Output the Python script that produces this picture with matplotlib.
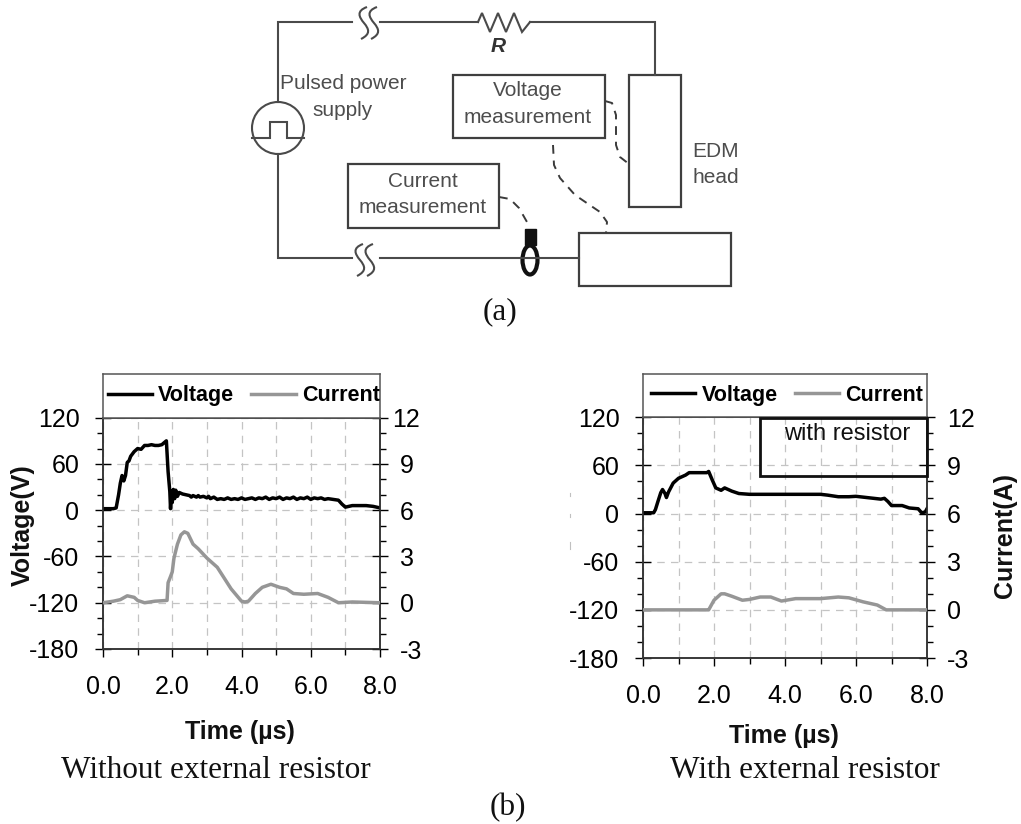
from matplotlib import pyplot as plt
from matplotlib.patches import Rectangle, Circle, Ellipse, PathPatch
from matplotlib.path import Path
from matplotlib.transforms import ScaledTranslation

plt.rcParams['font.family'] = ['Liberation Sans', 'DejaVu Sans']
plt.rcParams['axes.unicode_minus'] = False

WIDTH, HEIGHT = 1021, 824

# values: time in us, voltage in V, current in A
left_vt = [0, .15, .3, .38, .45, .5, .55, .6, .65, .7, .75, .8, .9, 1.0, 1.1, 1.2, 1.3, 1.4, 1.5, 1.6, 1.7, 1.75, 1.83, 1.88, 1.93, 1.95, 1.98, 2.0, 2.03, 2.07, 2.1, 2.15, 2.2, 2.3, 2.4, 2.5, 2.55, 2.6, 2.7, 2.75, 2.8, 2.9, 3.0, 3.05, 3.1, 3.2, 3.3, 3.4, 3.5, 3.6, 3.7, 3.8, 3.9, 4.0, 4.1, 4.2, 4.3, 4.4, 4.5, 4.6, 4.7, 4.8, 4.9, 5.0, 5.1, 5.2, 5.3, 5.4, 5.5, 5.6, 5.7, 5.8, 5.9, 6.0, 6.1, 6.2, 6.3, 6.4, 6.5, 6.65, 6.8, 6.9, 7.0, 7.2, 7.4, 7.6, 7.8, 8.0]
left_v = [2, 2, 2, 3, 20, 35, 45, 38, 45, 62, 64, 70, 76, 80, 79, 84, 84, 85, 84, 84, 85, 87, 90, 50, 24, 2, 25, 10, 27, 15, 26, 18, 23, 21, 20, 19, 17, 19, 17, 19, 17, 18, 16, 18, 15, 17, 14, 15, 14, 16, 14, 15, 14, 16, 14, 15, 16, 14, 16, 15, 17, 14, 16, 15, 17, 14, 16, 15, 17, 14, 16, 15, 17, 14, 16, 15, 16, 14, 15, 14, 13, 8, 4, 6, 6, 6, 5, 3]
left_it = [0, .3, .5, .7, .9, 1.0, 1.2, 1.5, 1.85, 1.88, 1.95, 2.0, 2.05, 2.15, 2.25, 2.35, 2.45, 2.6, 2.75, 3.0, 3.3, 3.5, 3.7, 4.0, 4.1, 4.2, 4.4, 4.6, 4.85, 5.1, 5.3, 5.5, 5.8, 6.2, 6.5, 6.8, 7.2, 8.0]
left_i = [0, .1, .2, .45, .35, .15, 0, .1, .15, 1.3, 1.7, 2.0, 2.9, 3.8, 4.4, 4.6, 4.5, 3.8, 3.5, 2.9, 2.3, 1.6, .9, .1, .05, .1, .6, 1.0, 1.2, 1.0, .9, .6, .55, .6, .35, 0, .05, 0]

right_vt = [0, .3, .35, .42, .5, .55, .62, .66, .72, .85, 1.0, 1.2, 1.3, 1.5, 1.8, 1.85, 1.95, 2.05, 2.2, 2.3, 2.5, 2.7, 3.0, 4.0, 5.0, 5.2, 5.5, 5.8, 6.0, 6.3, 6.7, 6.8, 6.9, 7.0, 7.3, 7.5, 7.75, 7.85, 7.95, 8.0]
right_v = [1, 1, 5, 15, 26, 30, 25, 20, 27, 38, 44, 48, 51, 51, 51, 52.5, 42, 32, 29, 32, 28, 25, 24, 24, 24, 23, 21, 21, 21.5, 20, 18, 19, 15, 10, 10, 7, 6, 1, 2, 6]
right_it = [0, 1.0, 1.8, 1.85, 2.0, 2.2, 2.3, 2.5, 2.8, 3.0, 3.3, 3.6, 3.9, 4.3, 5.0, 5.5, 5.8, 6.2, 6.6, 6.85, 7.0, 8.0]
right_i = [0, 0, 0, 0, .6, 1.0, 1.0, .85, .6, .65, .8, .8, .55, .7, .7, .8, .75, .5, .3, 0, 0, 0]

v_ticks = [-180, -120, -60, 0, 60, 120]
i_ticks = [-3, 0, 3, 6, 9, 12]
t_ticks = [0, 2, 4, 6, 8]
t_labels = ["0.0", "2.0", "4.0", "6.0", "8.0"]


def px_axes(x0, x1, y0, y1):
    """ axes from pixel edges, y counted from the top of the picture """
    return fig.add_axes([x0 / WIDTH, 1 - y1 / HEIGHT, (x1 - x0) / WIDTH, (y1 - y0) / HEIGHT])


def draw_panel(x0, x1, y_head, y_top, y_bottom, vt, v, it, i, shift_top=0):
    """ one voltage/current plot with its legend strip on top """
    ax = px_axes(x0, x1, y_top, y_bottom)
    ax.set_xlim(0, 8)
    ax.set_ylim(-180, 120)
    ax.set_yticks(v_ticks)
    ax.set_yticks(range(-160, 120, 20), minor=True)
    ax.set_xticks(t_ticks)
    ax.set_xticklabels(t_labels)
    ax.set_xticks([1, 3, 5, 7], minor=True)
    ax.tick_params(axis="y", which="major", direction="inout", length=11, width=1, labelsize=18, pad=11.5)
    ax.tick_params(axis="y", which="minor", direction="out", length=4.5, width=1)
    ax.tick_params(axis="x", which="major", direction="out", length=5.8, width=1, labelsize=18, pad=13)
    ax.tick_params(axis="x", which="minor", direction="out", length=4.3, width=1)
    ax.grid(True, which="major", axis="y", color="#c4c4c4", linestyle=(0, (6, 5)), linewidth=.9)
    ax.grid(True, which="both", axis="x", color="#c4c4c4", linestyle=(0, (6, 5)), linewidth=.9)
    ax.set_axisbelow(True)
    line_v, = ax.plot(vt, v, color="#000000", linewidth=2.5, zorder=4)

    twin = ax.twinx()
    twin.set_ylim(-3, 12)
    twin.set_yticks(i_ticks)
    twin.set_yticks([-2, -1, 1, 2, 4, 5, 7, 8, 10, 11], minor=True)
    twin.tick_params(which="major", direction="inout", length=11, width=1, labelsize=18, pad=9)
    twin.tick_params(which="minor", direction="out", length=4.5, width=1)
    line_i, = twin.plot(it, i, color="#969696", linewidth=2.5, zorder=3)

    # the top label of the right scale sits further left in one of the plots
    if shift_top:
        top = twin.get_yticklabels()[-1]
        top.set_transform(top.get_transform() + ScaledTranslation(shift_top / 100, 0, fig.dpi_scale_trans))

    for a in (ax, twin):
        for s in a.spines.values():
            s.set_color("#333333")
            s.set_linewidth(1.1)

    head = px_axes(x0, x1, y_head, y_top)
    head.set_xticks([])
    head.set_yticks([])
    for s in head.spines.values():
        s.set_color("#555555")
        s.set_linewidth(1.1)
    head.legend([line_v, line_i], ["Voltage", "Current"], ncol=2, loc="center",
                bbox_to_anchor=(.508, .5), frameon=False, handlelength=2.05,
                handletextpad=.3, columnspacing=.8, borderpad=0, borderaxespad=0,
                prop={"size": 15.5, "weight": "bold"})
    return ax, twin


def line_break(x, y):
    """ pair of S strokes that mark a break in a wire """
    for dx in (0, 10):
        verts = [(x + 11 + dx, y), (x + dx, y + 4), (x + 3 + dx, y + 10), (x + 8 + dx, y + 16),
                 (x + 13 + dx, y + 22), (x + 15 + dx, y + 27), (x + 5 + dx, y + 32)]
        codes = [Path.MOVETO] + [Path.CURVE4] * 6
        board.add_patch(PathPatch(Path(verts, codes), fill=False, edgecolor="#4a4a4a", linewidth=1.5))


fig = plt.figure(figsize=(WIDTH / 100, HEIGHT / 100), dpi=100)

# overlay in pixel coordinates for the circuit and the captions
board = fig.add_axes([0, 0, 1, 1], zorder=5)
board.set_xlim(0, WIDTH)
board.set_ylim(HEIGHT, 0)
board.axis("off")
wire = {"color": "#4a4a4a", "linewidth": 1.5, "solid_joinstyle": "miter"}
dash = {"color": "#3a3a3a", "linewidth": 1.4, "linestyle": (0, (4.5, 3.5))}
txt = {"color": "#4d4d4d", "fontsize": 15, "ha": "center", "va": "center"}

# wires
board.plot([352, 278, 278], [22, 22, 102], **wire)
board.plot([380, 478], [22, 22], **wire)
board.plot([478, 482, 490, 498, 506, 514, 522, 530], [22, 13, 32, 13, 32, 13, 32, 22], **wire)
board.plot([530, 655, 655], [22, 22, 75], **wire)
board.plot([278, 278, 352], [154, 258, 258], **wire)
board.plot([380, 579], [258, 258], **wire)

# line breaks
line_break(356, 7)
line_break(352, 244)

# supply
board.add_patch(Circle((278, 128), 26, fill=False, edgecolor="#4a4a4a", linewidth=1.5))
board.plot([252, 270, 270, 287, 287, 304], [138, 138, 122, 122, 138, 138], **wire)

# boxes
for x, y, w, h in [(629, 75, 52, 132), (579, 233, 152, 53), (453, 75, 152, 63), (348, 164, 151, 64)]:
    board.add_patch(Rectangle((x, y), w, h, fill=False, edgecolor="#3f3f3f", linewidth=1.6))

# current probe
board.add_patch(Rectangle((525, 229), 11, 16, color="#111111"))
board.add_patch(Ellipse((530, 260), 15, 29, fill=False, edgecolor="#111111", linewidth=3))

# signal leads
board.plot([605, 612, 616, 616, 620, 629], [101, 103, 115, 145, 157, 164], **dash)
board.plot([553, 554, 560, 575, 600, 607, 606], [145, 165, 178, 195, 212, 222, 233], **dash)
board.plot([499, 510, 519, 527], [197, 199, 208, 222], **dash)

board.text(498, 46, "R", fontsize=15, fontweight="bold", fontstyle="italic", color="#333333", ha="center", va="center")
board.text(343, 83, "Pulsed power", **txt)
board.text(343, 110, "supply", **txt)
board.text(528, 90, "Voltage", **txt)
board.text(528, 117, "measurement", **txt)
board.text(423, 181, "Current", **txt)
board.text(423, 207, "measurement", **txt)
board.text(716, 151, "EDM", **txt)
board.text(716, 177, "head", **txt)

serif = {"family": ["Liberation Serif"], "fontsize": 22.5, "ha": "center", "va": "center", "color": "#111111"}
board.text(500, 312, "(a)", **serif)
board.text(216, 770, "Without external resistor", **serif)
board.text(805, 770, "With external resistor", **serif)
board.text(508, 808, "(b)", **serif)

draw_panel(103, 380, 373.5, 417.7, 649, left_vt, left_v, left_it, left_i, shift_top=-8)
draw_panel(643, 927, 373.5, 417.3, 658, right_vt, right_v, right_it, right_i)

# resistor note on the right plot
board.add_patch(Rectangle((760, 418), 167, 58, fill=False, edgecolor="#111111", linewidth=2))
board.text(847, 434, "with resistor", fontsize=17, color="#111111", ha="center", va="center")

label = {"fontsize": 18, "fontweight": "bold", "color": "#111111", "ha": "center", "va": "center"}
board.text(23, 525, "Voltage(V)", rotation=90, **label)
board.text(1005, 536, "Current(A)", rotation=90, **label)
board.text(240, 732, "Time (\u00b5s)", **label)
board.text(784, 736, "Time (\u00b5s)", **label)

# faint scan specks left of the right plot
for y0, y1 in [(493, 496), (514, 517), (542, 549)]:
    board.plot([570, 570], [y0, y1], color="#c0c0c0", linewidth=.8)

fig.savefig("out.png", dpi=100, facecolor="white")
